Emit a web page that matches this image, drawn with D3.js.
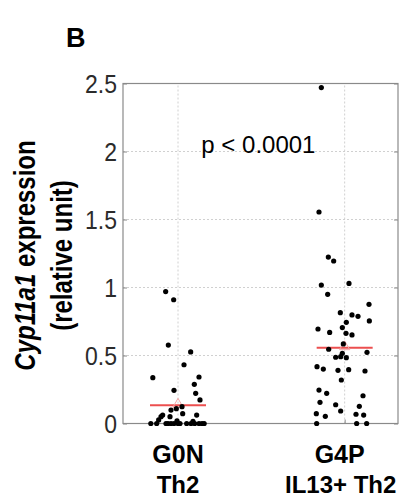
<!DOCTYPE html>
<html>
<head>
<meta charset="utf-8">
<script src="https://cdn.jsdelivr.net/npm/d3@7"></script>
<style>
  html, body { margin: 0; padding: 0; background: #fff; }
  svg { display: block; font-family: "Liberation Sans", Arial, sans-serif; }
</style>
</head>
<body>
<div id="chart"></div>
<script>
// categories and their two-line labels
const groups = [1, 2];
const groupLine1 = ["G0N", "G4P"];
const groupLine2 = ["Th2", "IL13+ Th2"];

// G0N Th2: values and horizontal jitter (data units around the group)
const g0nValues = [0.97, 0.91, 0.577, 0.526, 0.432, 0.337, 0.342, 0.288, 0.244, 0.222,
  0.173, 0.124, 0.109, 0.099, 0.072, 0.062, 0.062, 0.05, 0.05, 0.026, 0.015, 0.02,
  0, 0, 0, 0, 0, 0, 0, 0, 0, 0, 0, 0, 0, 0];
const g0nJitter = [-0.074, -0.026, -0.058, 0.076, 0.036, -0.151, 0.126, 0.098, -0.024, 0.106,
  0.132, 0.024, -0.010, -0.042, 0.028, -0.092, 0.112, -0.102, -0.048, -0.116, 0.09, -0.006,
  -0.163, -0.128, -0.072, -0.060, -0.042, -0.024, 0, 0.012, 0.052, 0.078, 0.1, 0.126, 0.144, 0.157];

// G4P IL13+ Th2
const g4pValues = [2.47, 1.555, 1.224, 1.195, 1.018, 1.03, 0.95, 0.876, 0.815, 0.798,
  0.788, 0.754, 0.744, 0.695, 0.705, 0.67, 0.663, 0.651, 0.585, 0.546,
  0.516, 0.523, 0.487, 0.491, 0.484, 0.418, 0.4, 0.391, 0.396, 0.386,
  0.32, 0.246, 0.222, 0.204, 0.156, 0.138, 0.126, 0.092, 0.072, 0.068,
  0.062, 0.053, 0, 0, 0];
const g4pJitter = [-0.140, -0.154, -0.098, -0.066, -0.140, 0.026, -0.102, 0.146, -0.026, 0.044,
  0.080, 0.148, 0.010, -0.160, -0.014, -0.090, 0.008, 0.044, -0.008, -0.096,
  -0.014, 0.134, -0.054, -0.024, 0.010, -0.166, -0.128, -0.040, 0.024, 0.122,
  -0.020, -0.154, -0.108, 0.110, -0.148, -0.054, 0.088, -0.024, -0.170, 0.068,
  0.114, -0.116, -0.168, 0.072, 0.132];

// group means (red bars)
const groupMeans = [0.134, 0.557];
const meanHalfWidth = 0.168;

const yTicks = [0, 0.5, 1, 1.5, 2, 2.5];
const yTickLabels = ["0", "0.5", "1", "1.5", "2", "2.5"];

const width = 403, height = 499;
const svg = d3.select("#chart").append("svg")
  .attr("width", width)
  .attr("height", height);

const x = d3.scaleLinear().domain([0.67, 2.32]).range([123, 398]);
const y = d3.scaleLinear().domain([0, 2.5]).range([423.5, 83.5]);

// grid
const grid = svg.append("g")
  .attr("stroke", "#d0d0d0")
  .attr("stroke-width", 1)
  .attr("stroke-dasharray", "2,2");
grid.selectAll(".hg")
  .data(yTicks.slice(1, -1))
  .enter().append("line")
  .attr("x1", x.range()[0]).attr("x2", x.range()[1])
  .attr("y1", d => y(d)).attr("y2", d => y(d));
grid.selectAll(".vg")
  .data(groups)
  .enter().append("line")
  .attr("x1", d => x(d)).attr("x2", d => x(d))
  .attr("y1", y.range()[0]).attr("y2", y.range()[1]);

// box
svg.append("rect")
  .attr("x", x.range()[0]).attr("y", y.range()[1])
  .attr("width", x.range()[1] - x.range()[0])
  .attr("height", y.range()[0] - y.range()[1])
  .attr("fill", "none")
  .attr("stroke", "#8a8a8a")
  .attr("stroke-width", 1.2);

// axes
const yAxis = svg.append("g")
  .attr("transform", `translate(${x.range()[0]},0)`)
  .call(d3.axisLeft(y).tickValues(yTicks).tickFormat((d, i) => yTickLabels[i])
    .tickSizeInner(-4).tickSizeOuter(0).tickPadding(6));
yAxis.select(".domain").remove();
yAxis.selectAll("line").attr("stroke", "#8a8a8a");
yAxis.selectAll("text")
  .attr("font-size", 23)
  .attr("font-family", "Liberation Sans, Arial, sans-serif")
  .attr("fill", "#2b2b2b")
  .attr("transform", "scale(1,1.1)")
  .attr("dy", "0.36em");

const yAxisR = svg.append("g")
  .attr("transform", `translate(${x.range()[1]},0)`)
  .call(d3.axisRight(y).tickValues(yTicks).tickFormat("").tickSizeInner(-4).tickSizeOuter(0));
yAxisR.select(".domain").remove();
yAxisR.selectAll("line").attr("stroke", "#8a8a8a");

const xAxis = svg.append("g")
  .attr("transform", `translate(0,${y.range()[0]})`)
  .call(d3.axisBottom(x).tickValues(groups).tickFormat("").tickSizeInner(-4).tickSizeOuter(0));
xAxis.select(".domain").remove();
xAxis.selectAll("line").attr("stroke", "#8a8a8a");

// category labels
const labels = svg.append("g")
  .attr("font-size", 24)
  .attr("font-weight", "bold")
  .attr("text-anchor", "middle")
  .attr("fill", "#000");
labels.selectAll(".l1")
  .data(groups)
  .enter().append("text")
  .attr("x", (d, i) => x(d) - (i ? 5 : 0))
  .attr("y", 463)
  .attr("font-size", 25)
  .text((d, i) => groupLine1[i]);
labels.selectAll(".l2")
  .data(groups)
  .enter().append("text")
  .attr("x", (d, i) => x(d) - (i ? 4 : 0))
  .attr("y", 493)
  .text((d, i) => groupLine2[i]);

// mean bars and markers
svg.selectAll(".mean")
  .data(groups)
  .enter().append("line")
  .attr("x1", d => x(d - meanHalfWidth))
  .attr("x2", d => x(d + meanHalfWidth))
  .attr("y1", (d, i) => y(groupMeans[i]))
  .attr("y2", (d, i) => y(groupMeans[i]))
  .attr("stroke", "#ec4f4f")
  .attr("stroke-width", 2);
svg.selectAll(".tri")
  .data(groups)
  .enter().append("path")
  .attr("d", d3.symbol().type(d3.symbolTriangle).size(45))
  .attr("transform", (d, i) => `translate(${x(d)},${y(groupMeans[i]) - 1})`)
  .attr("fill", "none")
  .attr("stroke", "#f3a6a6")
  .attr("stroke-width", 1);

// points
const points = [
  { g: 1, values: g0nValues, jitter: g0nJitter },
  { g: 2, values: g4pValues, jitter: g4pJitter }
].flatMap(s => s.values.map((v, i) => ({ x: s.g + s.jitter[i], y: v })));

svg.append("g").selectAll("circle")
  .data(points)
  .enter().append("circle")
  .attr("cx", d => x(d.x))
  .attr("cy", d => y(d.y))
  .attr("r", 2.6)
  .attr("fill", "#000");

// p-value
svg.append("text")
  .attr("x", x(1.14))
  .attr("y", y(2.0) + 1)
  .attr("font-size", 24)
  .attr("fill", "#000")
  .text("p < 0.0001");

// y title (slightly stretched across, like the original)
const title = svg.append("text")
  .attr("transform", `translate(0,${(y.range()[0] + y.range()[1]) / 2 + 2}) rotate(-90) scale(1,1.22)`)
  .attr("text-anchor", "middle")
  .attr("font-size", 24)
  .attr("font-weight", "bold")
  .attr("fill", "#000");
const t1 = title.append("tspan").attr("x", 0).attr("y", 29);
t1.append("tspan").attr("font-style", "italic").text("Cyp11a1");
t1.append("tspan").text(" expression");
title.append("tspan").attr("x", 0).attr("y", 59).text("(relative unit)");

// panel letter
svg.append("text")
  .attr("x", 66)
  .attr("y", 47)
  .attr("font-size", 27)
  .attr("font-weight", "bold")
  .text("B");
</script>
</body>
</html>
